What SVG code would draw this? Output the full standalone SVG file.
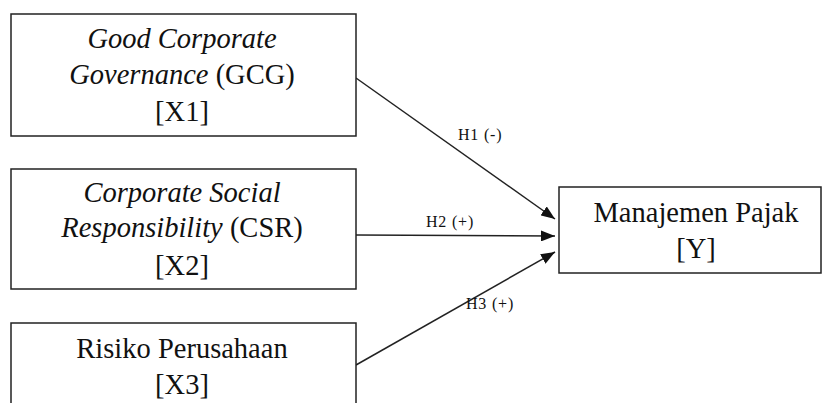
<svg xmlns="http://www.w3.org/2000/svg" width="822" height="403" viewBox="0 0 822 403">
<style>
.box{fill:#fff;stroke:#222;stroke-width:1.5}
.t{font-family:"Liberation Serif","Times New Roman",serif;font-size:28.5px;fill:#111;text-anchor:middle}
.i{font-style:italic}
.lbl{font-family:"Liberation Serif","Times New Roman",serif;font-size:16px;fill:#111;letter-spacing:0.8px}
.ln{stroke:#222;stroke-width:1.5;fill:none;marker-end:url(#ah)}
</style>
<defs>
<marker id="ah" viewBox="0 0 14 11" refX="14" refY="5.5" markerWidth="14" markerHeight="11" markerUnits="userSpaceOnUse" orient="auto">
<path d="M0,0 L14,5.5 L0,11 Z" fill="#111"/>
</marker>
</defs>
<rect width="822" height="403" fill="#fff"/>
<g id="connectors">
<line class="ln" x1="356" y1="78" x2="555" y2="219"/>
<line class="ln" x1="356" y1="235" x2="555" y2="236"/>
<line class="ln" x1="356" y1="365" x2="555" y2="252"/>
<text class="lbl" x="458" y="140">H1 (-)</text>
<text class="lbl" x="426" y="227">H2 (+)</text>
<text class="lbl" x="466" y="309">H3 (+)</text>
</g>
<g id="x1">
<rect class="box" x="11" y="14" width="345" height="122"/>
<text class="t i" x="182" y="48">Good Corporate</text>
<text class="t" x="182" y="84"><tspan class="i">Governance</tspan> (GCG)</text>
<text class="t" x="182" y="121">[X1]</text>
</g>
<g id="x2">
<rect class="box" x="11" y="169" width="345" height="120"/>
<text class="t i" x="182" y="202">Corporate Social</text>
<text class="t" x="182" y="237"><tspan class="i">Responsibility</tspan> (CSR)</text>
<text class="t" x="182" y="275">[X2]</text>
</g>
<g id="x3">
<rect class="box" x="11" y="323" width="345" height="100"/>
<text class="t" x="182" y="358">Risiko Perusahaan</text>
<text class="t" x="182" y="394">[X3]</text>
</g>
<g id="y">
<rect class="box" x="559" y="187" width="262" height="86"/>
<text class="t" x="696" y="222">Manajemen Pajak</text>
<text class="t" x="696" y="258">[Y]</text>
</g>
</svg>
